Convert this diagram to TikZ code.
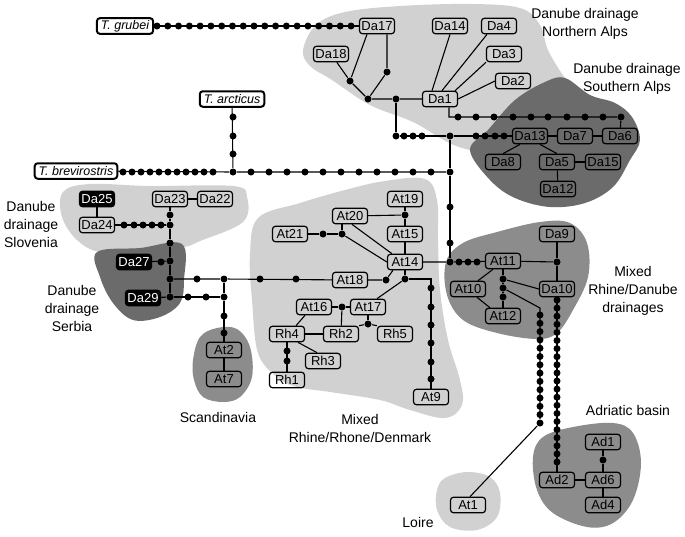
\documentclass[tikz,border=0pt]{standalone}
\usepackage{fontspec}
\setmainfont{Liberation Sans}
\usetikzlibrary{calc}
\tikzset{
  hap/.style={draw,rounded corners=3pt,line width=1.2pt,minimum width=35pt,minimum height=15.5pt,inner sep=1pt,font=\fontsize{13}{13}\selectfont},
  sp/.style={hap,fill=white,line width=2pt,inner xsep=4pt,inner ysep=2pt,font=\fontsize{12.5}{13}\selectfont\itshape},
  blk/.style={hap,fill=black,text=white},
  mv/.style={circle,fill=black,inner sep=0pt,minimum size=7pt},
  lbl/.style={align=center,font=\fontsize{14}{18}\selectfont},
  lt/.style={fill=black!18},
  dk/.style={fill=black!58},
  md/.style={fill=black!45},
}
\newcommand*{\blob}[2]{\fill[#1] plot[smooth cycle,tension=0.6] coordinates {#2};}

\begin{document}
\begin{tikzpicture}[x=1pt,y=-1pt,line width=1.1pt]
\useasboundingbox (0,0) rectangle (685,536);
% regions
\blob{lt}{(303,50) (316,25) (345,12) (400,6) (470,4) (520,8) (540,25) (548,50) (565,78) (585,100) (560,150) (470,150) (413,122) (370,105) (332,80) (310,66)}
\blob{dk}{(470,150) (488,130) (515,100) (545,82) (565,78) (590,95) (615,103) (632,117) (640,140) (630,160) (613,187) (585,203) (550,207) (515,198) (490,180)}
\blob{lt}{(63,192) (90,184) (150,186) (233,186) (247,197) (243,222) (200,241) (183,247) (140,250) (100,252) (77,240) (62,217)}
\blob{dk}{(97,252) (140,248) (182,244) (184,280) (180,303) (160,317) (133,320) (113,303) (100,277)}
\blob{md}{(193,360) (200,337) (217,328) (237,329) (250,347) (252,377) (240,397) (223,402) (203,397) (194,380)}
\blob{lt}{(258,218) (300,203) (345,190) (385,181) (425,179) (437,200) (438,240) (440,290) (448,340) (460,380) (462,405) (445,418) (410,410) (380,400) (330,392) (297,387) (277,377) (258,353) (252,300) (250,255)}
\blob{md}{(446,262) (463,243) (497,232) (540,222) (570,223) (587,243) (588,277) (573,310) (557,333) (537,339) (497,333) (463,320) (447,295)}
\blob{md}{(533,457) (543,437) (573,427) (613,423) (633,433) (641,463) (633,500) (613,523) (587,527) (553,513) (537,490)}
\blob{lt}{(437,490) (445,478) (467,472) (490,477) (500,493) (497,517) (477,530) (450,527) (437,510)}
% region names
\node[lbl] (nNA) at (585,24) {Danube drainage\\Northern Alps};
\node[lbl] (nSA) at (627,79) {Danube drainage\\Southern Alps};
\node[lbl] (nSl) at (31,224) {Danube\\drainage\\Slovenia};
\node[lbl] (nSe) at (72,308) {Danube\\drainage\\Serbia};
\node[lbl] (nSc) at (218,417) {Scandinavia};
\node[lbl] (nRR) at (360,428) {Mixed\\Rhine/Rhone/Denmark};
\node[lbl] (nRD) at (633,291) {Mixed\\Rhine/Danube\\drainages};
\node[lbl] (nAd) at (628,410) {Adriatic basin};
\node[lbl] (nLo) at (418,522) {Loire};
% outgroups
\node[sp] (grubei) at (125,26) {T. grubei};
\node[sp] (arct) at (232,99) {T. arcticus};
\node[sp] (brev) at (76,171) {T. brevirostris};
% haplotypes
\node[hap] (Da17) at (377,26) {Da17};
\node[hap] (Da18) at (331,54) {Da18};
\node[hap] (Da14) at (450,26) {Da14};
\node[hap] (Da4) at (499,26) {Da4};
\node[hap] (Da3) at (504,54) {Da3};
\node[hap] (Da2) at (513,81) {Da2};
\node[hap] (Da1) at (440,99) {Da1};
\node[hap] (Da13) at (530,136) {Da13};
\node[hap] (Da7) at (575,136) {Da7};
\node[hap] (Da6) at (620,136) {Da6};
\node[hap] (Da8) at (503,162) {Da8};
\node[hap] (Da5) at (557,162) {Da5};
\node[hap] (Da15) at (603,162) {Da15};
\node[hap] (Da12) at (558,189) {Da12};
\node[blk] (Da25) at (97,199) {Da25};
\node[hap] (Da24) at (97,225) {Da24};
\node[hap] (Da23) at (170,199) {Da23};
\node[hap] (Da22) at (215,199) {Da22};
\node[blk] (Da27) at (134,262) {Da27};
\node[blk] (Da29) at (143,298) {Da29};
\node[hap] (At2) at (224,350) {At2};
\node[hap] (At7) at (224,379) {At7};
\node[hap] (At19) at (405,199) {At19};
\node[hap] (At20) at (350,216) {At20};
\node[hap] (At21) at (290,234) {At21};
\node[hap] (At15) at (405,234) {At15};
\node[hap] (At14) at (405,262) {At14};
\node[hap] (At18) at (350,280) {At18};
\node[hap] (At16) at (314,307) {At16};
\node[hap] (At17) at (368,307) {At17};
\node[hap] (Rh4) at (287,334) {Rh4};
\node[hap] (Rh2) at (341,334) {Rh2};
\node[hap] (Rh5) at (395,334) {Rh5};
\node[hap] (Rh3) at (323,361) {Rh3};
\node[hap] (Rh1) at (287,380) {Rh1};
\node[hap] (At9) at (431,397) {At9};
\node[hap] (Da9) at (557,234) {Da9};
\node[hap] (At11) at (503,261) {At11};
\node[hap] (At10) at (468,289) {At10};
\node[hap] (Da10) at (557,289) {Da10};
\node[hap] (At12) at (503,316) {At12};
\node[hap] (At1) at (468,505) {At1};
\node[hap] (Ad1) at (603,442) {Ad1};
\node[hap] (Ad6) at (603,480) {Ad6};
\node[hap] (Ad2) at (557,480) {Ad2};
\node[hap] (Ad4) at (603,505) {Ad4};
% junctions
\node[mv] (j1) at (350,81) {};
\node[mv] (j2) at (368,99) {};
\node[mv] (j3) at (387,72) {};
\node[mv] (j4) at (396,99) {};
\node[mv] (j5) at (396,136) {};
\node[mv] (j6) at (450,136) {};
\node[mv] (j7) at (450,172) {};
\node[mv] (j8) at (233,172) {};
\node[mv] (j9) at (450,262) {};
\node[mv] (j10) at (621,117) {};
\coordinate (c1) at (449,117);
\node[mv] (k1) at (170,215) {};
\node[mv] (k2) at (170,225) {};
\node[mv] (k3) at (170,243) {};
\node[mv] (k4) at (170,261) {};
\node[mv] (k5) at (170,279) {};
\node[mv] (k6) at (170,297) {};
\node[mv] (k7) at (224,279) {};
\node[mv] (k8) at (224,297) {};
\node[mv] (g1) at (405,215) {};
\node[mv] (h1) at (323,234) {};
\node[mv] (h2) at (342,234) {};
\node[mv] (i1) at (386,280) {};
\node[mv] (t1) at (405,279) {};
\coordinate (t2) at (431,279);
\node[mv] (u1) at (342,307) {};
\node[mv] (u2) at (368,324) {};
\node[mv] (m1) at (557,262) {};
\node[mv] (n1) at (503,279) {};
\node[mv] (n2) at (503,288) {};
\node[mv] (n3) at (503,297) {};
\coordinate (q1) at (540,308);
\node[mv] (r1) at (540,423) {};
\node[mv] (s1) at (603,460) {};
% connectors
\draw (grubei) -- (Da17);
\draw (brev) -- (j8) -- (j7);
\draw (arct) -- (j8);
\draw (Da18) -- (j1) -- (j2) -- (j4) -- (Da1);
\draw ($(Da17.south)+(-10,0)$) -- (j1);
\draw ($(Da17.south)+(10,0)$) -- (j3) -- (j2);
\draw (Da14.south) -- ($(Da1.north)+(-8,0)$);
\draw ($(Da4.south)+(-12,0)$) -- ($(Da1.north)+(2,0)$);
\draw (Da3.south west) -- ($(Da1.north east)+(-3,0)$);
\draw (Da2.west) -- (Da1.east);
\draw (j4) -- (j5) -- (j6) -- (Da13);
\draw (Da1.south -| c1) -- (c1) -- (j10) -- (Da6);
\draw (Da13) -- (Da7) -- (Da6);
\draw ($(Da13.south)+(-10,0)$) -- (Da8.north);
\draw ($(Da13.south)+(10,0)$) -- (Da5.north);
\draw (Da5) -- (Da15);
\draw (Da5) -- (Da12);
\draw (j6) -- (j7) -- (j9);
\draw (At14) -- (j9) -- (At11);
\draw (Da25) -- (Da24);
\draw (Da23) -- (Da22);
\draw (Da23) -- (k1) -- (k2) -- (k3) -- (k4) -- (k5) -- (k6);
\draw (Da24) -- (k2);
\draw (Da27) -- (k4);
\draw (Da29) -- (k6);
\draw (k5) -- (k7) -- (At18);
\draw (k6) -- (k8);
\draw (k7) -- (k8) -- (At2) -- (At7);
\draw (At19) -- (g1) -- (At15) -- (At14);
\draw (At20) -- (g1);
\draw (At21) -- (h1) -- (h2);
\draw (h2) -- (h2 |- At20.south);
\draw (h2) -- (At14.west);
\draw ($(At20.south)+(2,0)$) -- ($(At14.north west)+(5,0)$);
\draw (At18) -- (i1) -- ($(At14.south west)+(6,0)$);
\draw (At14) -- (t1) -- (t2) -- (At9);
\draw (t1) -- ($(At17.north)+(9,0)$);
\draw (At16) -- (u1) -- (At17);
\draw (u1) -- (Rh2);
\draw ($(At16.south)+(-9,0)$) -- ($(Rh4.north)+(9,0)$);
\draw (Rh4) -- (Rh2);
\draw ($(Rh4.south)+(11,0)$) -- ($(Rh3.north)+(-6,0)$);
\draw (Rh4) -- (Rh1);
\draw (At17) -- (u2);
\draw (u2) -- (Rh2.north east);
\draw (u2) -- (Rh5.north west);
\draw (At11) -- (m1);
\draw (Da9) -- (m1) -- (Da10);
\draw ($(At11.south)+(-10,0)$) -- ($(At10.north)+(10,0)$);
\draw ($(At10.south)+(9,0)$) -- ($(At12.north west)+(5,0)$);
\draw (At11) -- (n1) -- (n2) -- (n3) -- (At12);
\draw (n1) -- (Da10.west);
\draw (n2) -- (q1) -- (r1) -- ($(At1.north)+(2,0)$);
\draw (Da10) -- (Ad2);
\draw (Ad1) -- (s1) -- (Ad6);
\draw (Ad2) -- (Ad6) -- (Ad4);
% mutation steps
\foreach \i in {0,...,18}
  \node[mv] (gr\i) at (157+\i*10.78,26) {};
\foreach \i in {0,...,10}
  \node[mv] (br\i) at (123+\i*9,172) {};
\foreach \i in {1,...,11}
  \node[mv] (bs\i) at (233+\i*18,172) {};
\foreach \y [count=\i] in {117,136,154}
  \node[mv] (ar\i) at (233,\y) {};
\foreach \x [count=\i] in {404,413,422,476,485,495,504}
  \node[mv] (e\i) at (\x,136) {};
\foreach \x [count=\i] in {458,476,494,513,531,548,567,585,603}
  \node[mv] (d\i) at (\x,117) {};
\foreach \y [count=\i] in {207,243}
  \node[mv] (f\i) at (450,\y) {};
\foreach \x [count=\i] in {459,468,477}
  \node[mv] (w\i) at (\x,262) {};
\foreach \x [count=\i] in {124,134,143,152,161}
  \node[mv] (sl\i) at (\x,225) {};
\node[mv] (se1) at (161,262) {};
\foreach \x [count=\i] in {197,260,296}
  \node[mv] (p\i) at (\x,279) {};
\foreach \x [count=\i] in {188,206}
  \node[mv] (v\i) at (\x,297) {};
\foreach \y [count=\i] in {316,333}
  \node[mv] (sc\i) at (224,\y) {};
\foreach \y [count=\i] in {288,307,325,343,362,379}
  \node[mv] (a9\i) at (431,\y) {};
\foreach \y [count=\i] in {351,361}
  \node[mv] (rh\i) at (287,\y) {};
\foreach \i in {0,...,12}
  \node[mv] (lo\i) at (540,315+\i*8.3) {};
\foreach \i in {0,...,20}
  \node[mv] (ad\i) at (557,300+\i*8.1) {};
\end{tikzpicture}
\end{document}
